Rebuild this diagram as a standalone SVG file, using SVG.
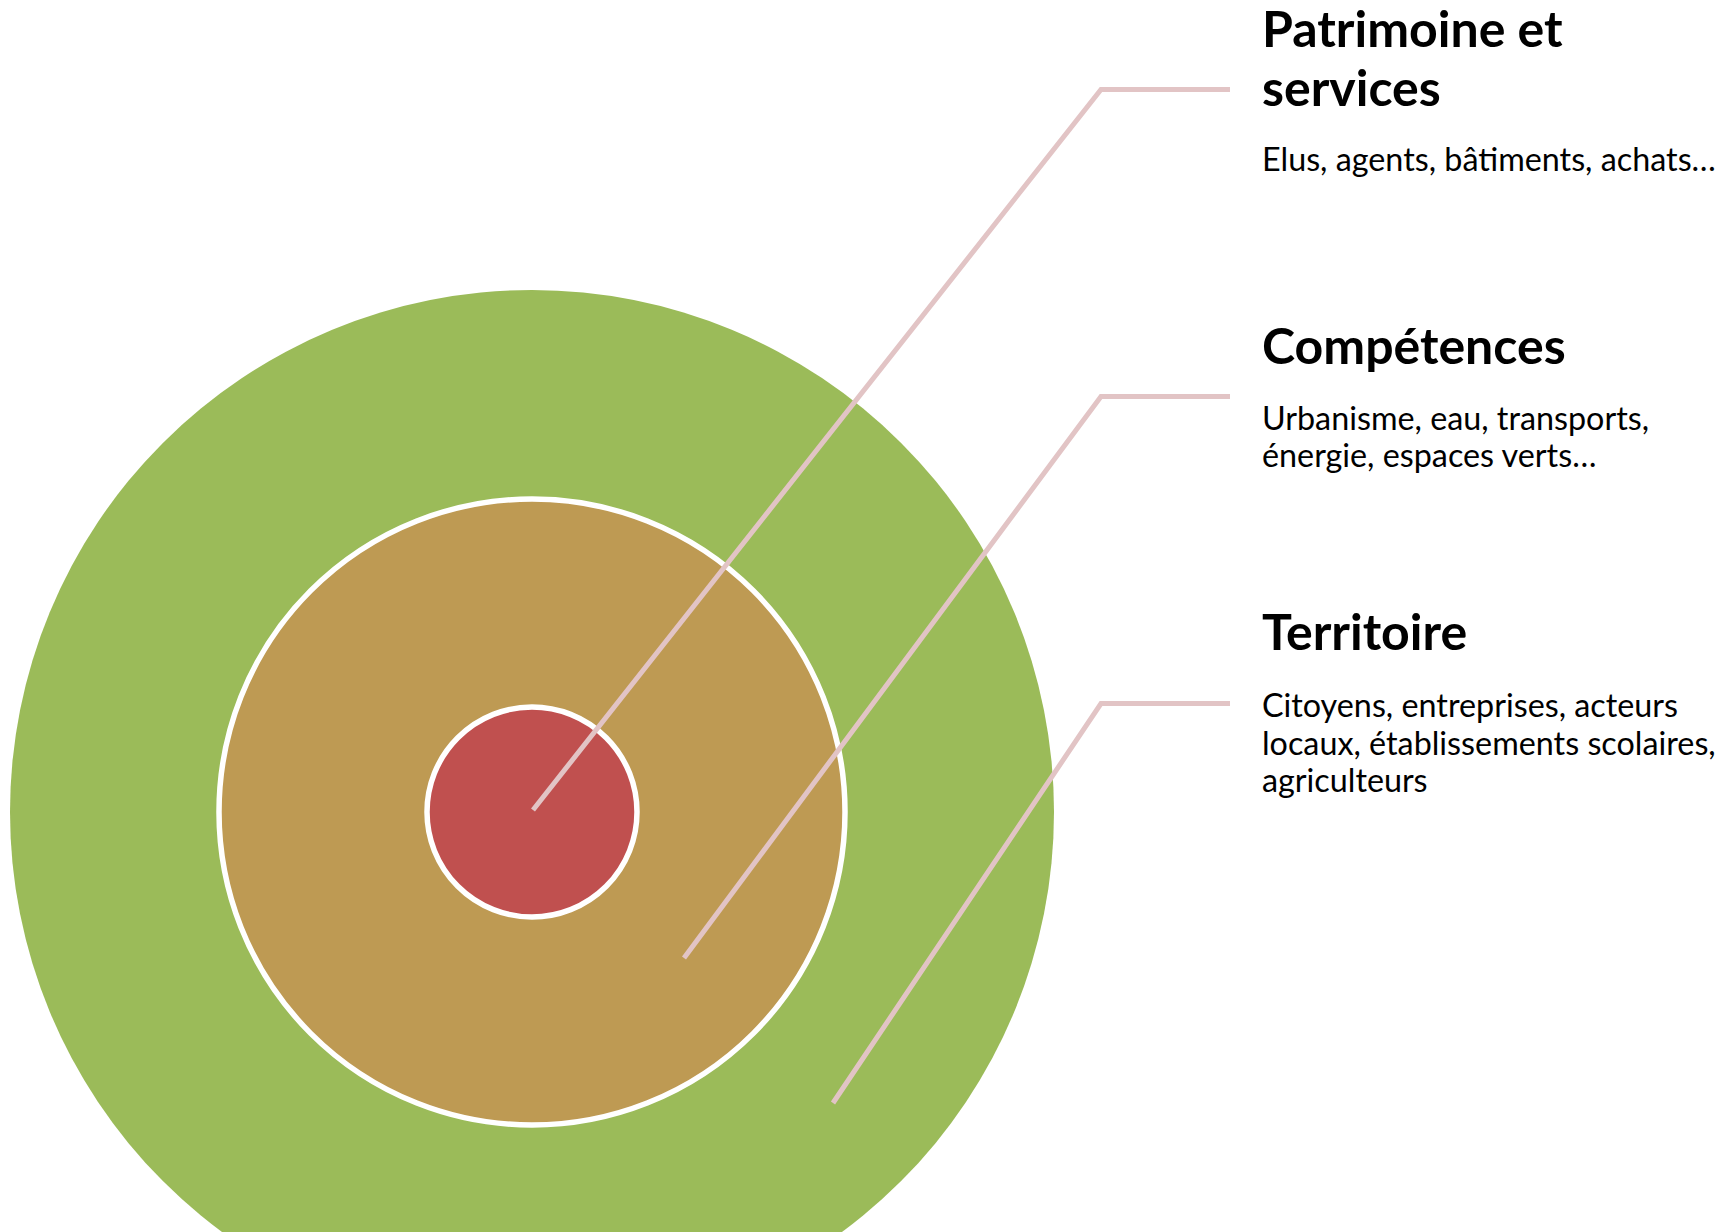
<svg xmlns="http://www.w3.org/2000/svg" width="1733" height="1232" viewBox="0 0 1733 1232">
<style>
.h{font-family:Lato,"Liberation Sans",sans-serif;font-weight:bold;font-size:50px;fill:#000}
.b{font-family:Lato,"Liberation Sans",sans-serif;font-size:32.3px;fill:#000}
.c{fill:none;stroke:#E2C4C5;stroke-width:5}
</style>
<rect width="1733" height="1232" fill="#fff"/>
<g id="territoire-ring"><circle cx="532" cy="812" r="522" fill="#9BBB59"/></g>
<g id="competences-ring"><circle cx="532" cy="812" r="313" fill="#BE9A53" stroke="#fff" stroke-width="5.5"/></g>
<g id="patrimoine-core"><circle cx="532" cy="812" r="105" fill="#C0504F" stroke="#fff" stroke-width="5.5"/></g>
<g id="connectors">
<polyline class="c" points="533,810 1101,89.5 1230,89.5"/>
<polyline class="c" points="684,958 1101,396.5 1230,396.5"/>
<polyline class="c" points="833,1103 1101,703.5 1230,703.5"/>
</g>
<g id="label-patrimoine">
<text class="h" x="1262" y="47">Patrimoine et</text>
<text class="h" x="1262" y="106">services</text>
<text class="b" x="1262" y="171">Elus, agents, bâtiments, achats…</text>
</g>
<g id="label-competences">
<text class="h" x="1262" y="364">Compétences</text>
<text class="b" x="1262" y="430">Urbanisme, eau, transports,</text>
<text class="b" x="1262" y="467">énergie, espaces verts…</text>
</g>
<g id="label-territoire">
<text class="h" x="1262" y="650">Territoire</text>
<text class="b" x="1262" y="717">Citoyens, entreprises, acteurs</text>
<text class="b" x="1262" y="755">locaux, établissements scolaires,</text>
<text class="b" x="1262" y="792">agriculteurs</text>
</g>
</svg>
